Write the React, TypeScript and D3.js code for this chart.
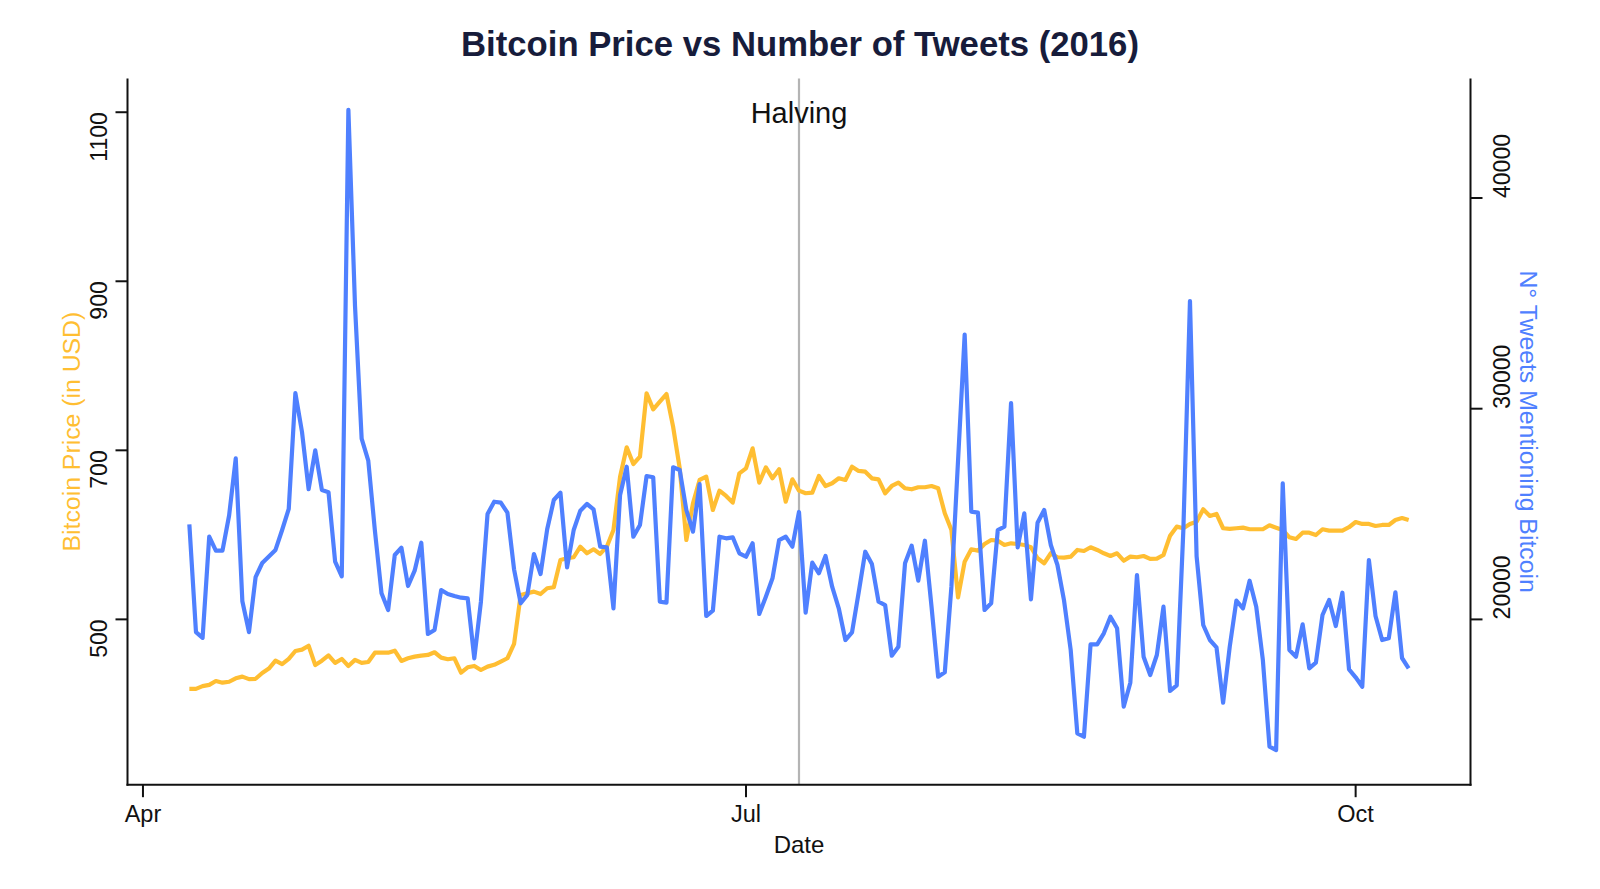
import React, { useEffect } from 'react';
import * as d3 from 'd3';

// daily series, 2016-04-08 .. 2016-10-09
const firstDay = '2016-04-08';

const priceUsd = [
  417.8, 417.8, 421, 422.5, 427.1, 425.1, 426.2, 430.3, 432.3, 429.3,
  429.7, 436.6, 441.8, 451.1, 447, 453.2, 462.6, 464.2, 468.8, 445.9,
  451.1, 457.3, 448.5, 453.2, 444.9, 452.1, 448.5, 449.6, 460.6, 460.6,
  460.6, 463, 450.8, 454, 455.9, 457.1, 457.9, 461.1, 454.7, 452.8,
  454, 436.9, 443.3, 444.9, 440.1, 444.1, 446.2, 450, 454, 470.9,
  528.9, 530.9, 532.8, 530, 536.8, 538, 570.3, 572.3, 573.5, 586,
  578.2, 582.9, 577.4, 586, 605.8, 668.8, 703.6, 683.8, 692.5, 767.5,
  748.5, 757.5, 766.6, 728, 678.7, 593.9, 637.3, 664.9, 668.8, 629.4,
  652.3, 646, 638.1, 672.8, 678.7, 702.4, 661.7, 679.9, 666.9, 677.6,
  639.2, 665.7, 652.3, 649.2, 649.9, 669.6, 657.8, 661, 666.9, 664.9,
  680.6, 675.6, 674.7, 666.9, 665.7, 649.2, 657.8, 661.7, 655.1, 653.9,
  656.3, 656.3, 657.8, 655.1, 625.5, 605.8, 526.1, 568.3, 582.9, 581.3,
  589.2, 593.9, 593.1, 588, 590, 589.2, 588, 585.3, 572.3, 566.4,
  578.2, 573.5, 573, 574.2, 582.1, 580.9, 585.3, 582.1, 578.2, 575,
  578.2, 569.4, 574.2, 573.5, 575, 571.5, 571.8, 576.2, 599, 609.7,
  607.8, 612.9, 615.6, 630.2, 622.3, 624.7, 607.8, 607, 607.8, 608.5,
  606.6, 606.6, 606.6, 611.3, 608.5, 605.8, 597.1, 595.1, 602.6, 602.6,
  599.8, 606.6, 605, 605, 605, 609, 615.2, 612.9, 612.9, 610.5,
  611.7, 611.7, 617.6, 619.9, 617.6,
];

const tweetCount = [
  24513, 19397, 19127, 23925, 23260, 23260, 24931, 27641, 20859, 19397,
  22008, 22677, 22985, 23298, 24243, 25244, 30736, 28894, 26180, 28021,
  26141, 26037, 22738, 22045, 44181, 34874, 28581, 27537, 24214, 21240,
  20446, 23057, 23403, 21585, 22311, 23640, 19307, 19497, 21395, 21205,
  21110, 21030, 21000, 18154, 20840, 25002, 25586, 25539, 25064, 22378,
  20764, 21158, 23104, 22155, 24276, 25667, 26013, 22473, 24243, 25160,
  25477, 25225, 23450, 23422, 20527, 25904, 27247, 23925, 24480, 26806,
  26744, 20840, 20793, 27218, 27091, 25192, 24163, 26426, 20161, 20413,
  23925, 23849, 23896, 23137, 22976, 23612, 20256, 21077, 21951, 23768,
  23925, 23450, 25100, 20318, 22691, 22188, 23009, 21552, 20527, 19022,
  19388, 21267, 23213, 22629, 20840, 20683, 18277, 18704, 22662, 23498,
  21837, 23735, 20603, 17281, 17489, 21552, 27530, 33512, 25112, 25064,
  20446, 20764, 24240, 24400, 30270, 23422, 25035, 20954, 24590, 25192,
  23531, 22582, 20888, 18548, 14594, 14433, 18818, 18818, 19340, 20128,
  19578, 15857, 16996, 22107, 18230, 17361, 18310, 20603, 16602, 16872,
  24240, 35111, 23000, 19734, 19022, 18676, 16047, 18704, 20888, 20527,
  21837, 20603, 18070, 13958, 13802, 26459, 18548, 18230, 19767, 17679,
  17945, 20209, 20921, 19687, 21267, 17632, 17252, 16806, 22819, 20161,
  19022, 19103, 21286, 18168, 17675,
];

const xTickDates = ['2016-04-01', '2016-07-01', '2016-10-01'];
const xTickLabels = ['Apr', 'Jul', 'Oct'];
const priceTicks = [500, 700, 900, 1100];
const tweetTicks = [20000, 30000, 40000];
const halvingDate = '2016-07-09';

const FONT = '"Liberation Sans", Arial, Helvetica, sans-serif';
const GOLD = '#ffbe32';
const BLUE = '#4f80ff';

const W = 1600;
const H = 889;
const plot = { left: 127.5, right: 1470.5, top: 78.5, bottom: 784.7 };

const parseDay = d3.utcParse('%Y-%m-%d');

export default function App() {
  useEffect(() => {
    document.body.style.margin = '0';
  }, []);

  const start = parseDay(firstDay) as Date;
  const days = priceUsd.map((_, i) => d3.utcDay.offset(start, i));

  const x = d3
    .scaleUtc()
    .domain([new Date(Date.UTC(2016, 2, 29, 16)), new Date(Date.UTC(2016, 9, 18, 8))])
    .range([plot.left, plot.right]);

  const yPrice = d3.scaleLinear().domain([304.4, 1139.9]).range([plot.bottom, plot.top]);
  const yTweets = d3.scaleLinear().domain([12155, 45671]).range([plot.bottom, plot.top]);

  const priceLine = d3
    .line<number>()
    .x((_, i) => x(days[i]))
    .y(d => yPrice(d));

  const tweetLine = d3
    .line<number>()
    .x((_, i) => x(days[i]))
    .y(d => yTweets(d));

  const halvingX = x(parseDay(halvingDate) as Date);
  const midY = (plot.top + plot.bottom) / 2;

  return (
    <svg width={W} height={H} style={{ display: 'block', background: '#fff' }} fontFamily={FONT}>
      <text x={800} y={56} textAnchor="middle" fontSize={34.7} fontWeight="bold" fill="#171c3b">
        Bitcoin Price vs Number of Tweets (2016)
      </text>

      {/* halving marker */}
      <line x1={halvingX} x2={halvingX} y1={plot.top} y2={plot.bottom} stroke="#b4b4b4" strokeWidth={2.2} />
      <text x={halvingX} y={123} textAnchor="middle" fontSize={29} fill="#111">
        Halving
      </text>

      <path d={priceLine(priceUsd) || ''} fill="none" stroke={GOLD} strokeWidth={4.2} strokeLinejoin="round" />
      <path d={tweetLine(tweetCount) || ''} fill="none" stroke={BLUE} strokeWidth={4.2} strokeLinejoin="round" />

      {/* axes */}
      <g stroke="#111" strokeWidth={2} fill="none">
        <line x1={plot.left} x2={plot.left} y1={plot.top} y2={plot.bottom + 1} />
        <line x1={plot.right} x2={plot.right} y1={plot.top} y2={plot.bottom + 1} />
        <line x1={plot.left - 1} x2={plot.right + 1} y1={plot.bottom} y2={plot.bottom} />
      </g>

      {xTickDates.map((d, i) => {
        const tx = x(parseDay(d) as Date);
        return (
          <g key={d}>
            <line x1={tx} x2={tx} y1={plot.bottom} y2={plot.bottom + 12.5} stroke="#111" strokeWidth={2} />
            <text x={tx} y={822} textAnchor="middle" fontSize={23.5} fill="#111">
              {xTickLabels[i]}
            </text>
          </g>
        );
      })}

      {priceTicks.map(v => {
        const ty = yPrice(v);
        return (
          <g key={v}>
            <line x1={plot.left - 12} x2={plot.left} y1={ty} y2={ty} stroke="#111" strokeWidth={2} />
            <text transform={`translate(107,${ty}) rotate(-90)`} textAnchor="end" fontSize={23} fill="#111">
              {v}
            </text>
          </g>
        );
      })}

      {tweetTicks.map(v => {
        const ty = yTweets(v);
        return (
          <g key={v}>
            <line x1={plot.right} x2={plot.right + 12} y1={ty} y2={ty} stroke="#111" strokeWidth={2} />
            <text transform={`translate(1510,${ty}) rotate(-90)`} textAnchor="start" fontSize={23} fill="#111">
              {v}
            </text>
          </g>
        );
      })}

      <text x={799} y={853} textAnchor="middle" fontSize={24} fill="#111">
        Date
      </text>
      <text transform={`translate(80,${midY}) rotate(-90)`} textAnchor="middle" fontSize={24.8} fill={GOLD}>
        Bitcoin Price (in USD)
      </text>
      <text transform={`translate(1520,${midY}) rotate(90)`} textAnchor="middle" fontSize={24.8} fill={BLUE}>
        N° Tweets Mentioning Bitcoin
      </text>
    </svg>
  );
}
